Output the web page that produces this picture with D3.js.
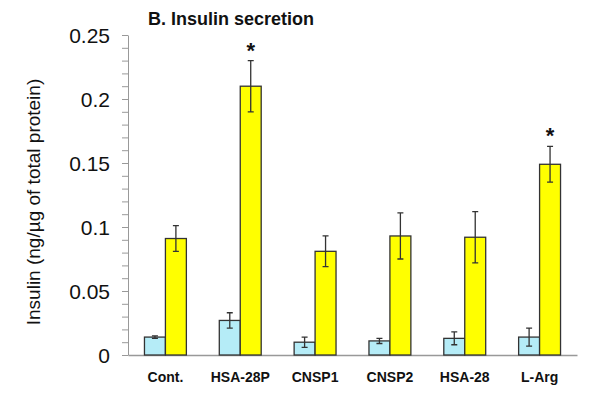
<!DOCTYPE html>
<html>
<head>
<meta charset="utf-8">
<script src="https://cdn.jsdelivr.net/npm/d3@7"></script>
<style>
  body { margin: 0; background: #fff; }
  text { font-family: "Liberation Sans", Arial, sans-serif; }
</style>
</head>
<body>
<svg id="chart" width="600" height="394"></svg>
<script>
// data
const categories = ["Cont.", "HSA-28P", "CNSP1", "CNSP2", "HSA-28", "L-Arg"];
const groups = ["basal", "stimulated"];
const basalValues = [0.014, 0.027, 0.010, 0.011, 0.013, 0.014];
const basalErrors = [0.001, 0.006, 0.004, 0.002, 0.005, 0.007];
const stimValues = [0.091, 0.210, 0.081, 0.093, 0.092, 0.149];
const stimErrors = [0.010, 0.020, 0.012, 0.018, 0.020, 0.014];
const significant = [false, true, false, false, false, true];
const yTicks = [0, 0.05, 0.1, 0.15, 0.2, 0.25];

const svg = d3.select("#chart");
const plotLeft = 128, plotRight = 577, plotTop = 35, plotBottom = 355;

const x = d3.scaleBand()
  .domain(categories)
  .range([plotLeft, plotRight])
  .paddingInner(0.44)
  .paddingOuter(0.22);

const xSub = d3.scaleBand()
  .domain(groups)
  .range([0, x.bandwidth()]);

const y = d3.scaleLinear()
  .domain([0, 0.25])
  .range([plotBottom, plotTop]);

const color = d3.scaleOrdinal()
  .domain(groups)
  .range(["#b5ecf7", "#ffff00"]);

const rows = categories.map((c, i) => ({
  cat: c,
  sig: significant[i],
  bars: [
    {g: "basal", v: basalValues[i], e: basalErrors[i]},
    {g: "stimulated", v: stimValues[i], e: stimErrors[i]}
  ]
}));

// y axis: minor ticks every 0.01, labels every 0.05
const yMinor = svg.append("g")
  .attr("transform", `translate(${plotLeft},0)`)
  .call(d3.axisLeft(y).tickValues(d3.range(0, 0.2501, 0.01)).tickSize(6).tickFormat("").tickSizeOuter(0));
yMinor.selectAll("line, path").attr("stroke", "#999");

const yAxis = svg.append("g")
  .attr("transform", `translate(${plotLeft},0)`)
  .call(d3.axisLeft(y).tickValues(yTicks).tickSize(6).tickPadding(12).tickFormat(d => d3.format("")(+d.toFixed(2))));
yAxis.select(".domain").remove();
yAxis.selectAll("line").attr("stroke", "#999");
yAxis.selectAll("text")
  .style("font-size", "21px")
  .attr("fill", "#111")
  .attr("dy", "0.35em");

// x axis
const xAxis = svg.append("g")
  .attr("transform", `translate(0,${plotBottom})`)
  .call(d3.axisBottom(x).tickSize(0).tickPadding(17).tickSizeOuter(0));
xAxis.select(".domain").attr("stroke", "#999").attr("stroke-width", 1.5);
xAxis.selectAll("text")
  .style("font-size", "14px")
  .style("font-weight", "bold")
  .attr("fill", "#111");

// bars
const grp = svg.append("g").selectAll("g")
  .data(rows)
  .join("g")
  .attr("transform", d => `translate(${x(d.cat)},0)`);

grp.selectAll("rect")
  .data(d => d.bars)
  .join("rect")
  .attr("x", d => xSub(d.g))
  .attr("y", d => y(d.v))
  .attr("width", xSub.bandwidth())
  .attr("height", d => y(0) - y(d.v))
  .attr("fill", d => color(d.g))
  .attr("stroke", "#333")
  .attr("stroke-width", 1.3);

// error bars
const capW = 3;
grp.selectAll("path.err")
  .data(d => d.bars)
  .join("path")
  .attr("class", "err")
  .attr("fill", "none")
  .attr("stroke", "#333")
  .attr("stroke-width", 1.3)
  .attr("d", d => {
    const cx = xSub(d.g) + xSub.bandwidth() / 2;
    const y1 = y(d.v + d.e), y2 = y(d.v - d.e);
    return `M${cx},${y1}V${y2}M${cx - capW},${y1}H${cx + capW}M${cx - capW},${y2}H${cx + capW}`;
  });

// significance stars
grp.filter(d => d.sig)
  .append("text")
  .attr("x", xSub("stimulated") + xSub.bandwidth() / 2)
  .attr("y", d => y(d.bars[1].v + d.bars[1].e) - 3)
  .attr("text-anchor", "middle")
  .style("font-size", "22px")
  .style("font-weight", "bold")
  .attr("fill", "#111")
  .text("*");

// title
svg.append("text")
  .attr("x", 148)
  .attr("y", 25)
  .style("font-size", "18px")
  .style("font-weight", "bold")
  .attr("fill", "#111")
  .text("B. Insulin secretion");

// y label
svg.append("text")
  .attr("transform", "translate(40,202) rotate(-90)")
  .attr("text-anchor", "middle")
  .style("font-size", "19px")
  .attr("fill", "#111")
  .text("Insulin (ng/µg of total protein)");
</script>
</body>
</html>
